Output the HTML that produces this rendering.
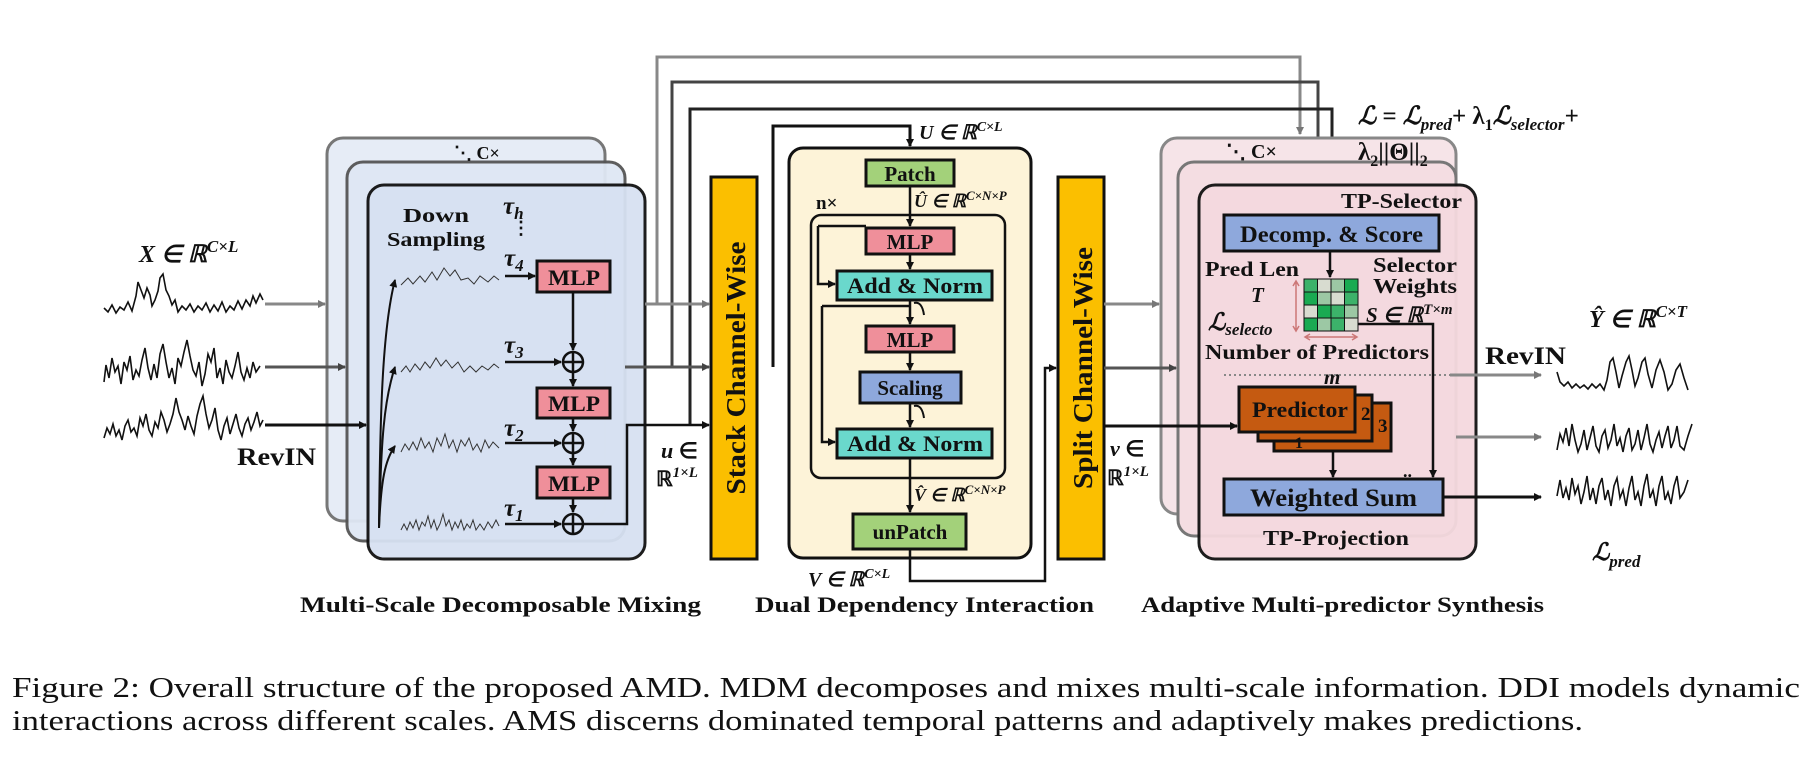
<!DOCTYPE html>
<html><head><meta charset="utf-8"><style>
html,body{margin:0;padding:0;background:#fff}
svg{display:block}
text{font-family:"Liberation Serif",serif;font-weight:bold;fill:#111}
.it{font-style:italic}
.cap{font-weight:normal;font-size:28px}
</style></head><body>
<svg width="1811" height="781" viewBox="0 0 1811 781" xmlns="http://www.w3.org/2000/svg">
<defs>
<marker id="a" markerWidth="8" markerHeight="8" refX="7" refY="4" orient="auto" markerUnits="userSpaceOnUse"><path d="M0,0 L8,4 L0,8 z" fill="#111"/></marker>
<marker id="g" markerWidth="8" markerHeight="8" refX="7" refY="4" orient="auto" markerUnits="userSpaceOnUse"><path d="M0,0 L8,4 L0,8 z" fill="#777"/></marker>
<marker id="d" markerWidth="8" markerHeight="8" refX="7" refY="4" orient="auto" markerUnits="userSpaceOnUse"><path d="M0,0 L8,4 L0,8 z" fill="#444"/></marker>
</defs>

<g fill="none" stroke-width="3">
<path d="M657,304 V57 H1300 V134" stroke="#888" marker-end="url(#g)"/>
<path d="M672,367 V82 H1318 V160" stroke="#444" marker-end="url(#d)"/>
<path d="M690,425 V109 H1332 V213" stroke="#222" marker-end="url(#a)"/>
<path d="M773,367 V126 H910 V146" stroke="#111" marker-end="url(#a)"/>
</g>

<rect x="327" y="138" width="278" height="383" rx="16" fill="#e6ecf6" stroke="#777" stroke-width="3"/>
<rect x="347" y="162" width="278" height="379" rx="16" fill="#dfe7f4" stroke="#555" stroke-width="3" opacity="0.95"/>
<rect x="368" y="185" width="277" height="374" rx="16" fill="#d7e1f2" stroke="#111" stroke-width="3" opacity="0.95"/>
<text x="454" y="159" font-size="18" font-weight="normal">⋱ C×</text>

<rect x="1161" y="138" width="295" height="376" rx="16" fill="#f6e4e8" stroke="#888" stroke-width="3"/>
<rect x="1178" y="162" width="278" height="374" rx="16" fill="#f4dde2" stroke="#777" stroke-width="3"/>
<rect x="1199" y="185" width="277" height="374" rx="16" fill="#f5d9df" stroke="#111" stroke-width="3" opacity="0.95"/>
<text x="1226" y="158" font-size="20" font-weight="normal">⋱ C×</text>

<g fill="none" stroke="#111" stroke-width="1.6">
<polyline points="104,308 108,312 112,305 116,313 120,307 124,310 128,302 132,311 136,296 138,282 141,290 144,298 147,288 150,295 152,306 155,300 158,291 160,278 163,274 166,290 169,296 172,305 175,300 178,312 182,306 186,310 190,304 194,312 198,306 202,310 206,303 210,312 214,305 218,311 222,302 226,312 230,306 234,310 238,301 242,309 246,300 250,306 253,296 256,303 260,294 263,300"/>
<polyline points="104,382 106,365 109,378 112,358 115,372 118,366 121,384 124,362 127,370 130,356 133,380 136,370 139,376 142,360 145,348 148,368 151,380 154,364 157,378 160,354 163,344 166,362 169,378 172,368 175,384 178,358 181,366 184,352 187,340 190,356 193,370 196,376 199,362 202,386 205,374 208,354 211,362 214,348 217,378 220,368 223,384 226,360 229,372 232,378 235,366 238,352 241,372 244,380 247,368 250,378 253,362 256,372 260,366"/>
<polyline points="104,438 107,428 110,434 113,424 116,436 119,430 122,440 125,426 128,420 131,432 134,428 137,436 140,418 143,426 146,414 149,430 152,436 155,422 158,428 161,412 164,420 167,432 170,424 173,414 176,398 179,412 182,420 185,430 188,416 191,426 194,434 197,416 200,404 203,396 206,414 209,428 212,420 215,408 218,430 221,440 224,426 227,418 230,434 233,424 236,414 239,428 242,436 245,424 248,418 251,430 254,422 257,412 260,426 263,420"/>
</g>
<g fill="none" stroke-width="3">
<path d="M265,304 H325" stroke="#888" marker-end="url(#g)"/>
<path d="M265,367 H345" stroke="#555" marker-end="url(#d)"/>
<path d="M265,425 H366" stroke="#111" marker-end="url(#a)"/>
</g>
<text x="139" y="262" font-size="24" class="it">X ∈ ℝ<tspan font-size="17" dy="-10">C×L</tspan></text>
<text x="237" y="465" font-size="25" textLength="79" lengthAdjust="spacingAndGlyphs">RevIN</text>

<text x="403" y="222" font-size="20" textLength="66" lengthAdjust="spacingAndGlyphs">Down</text>
<text x="387" y="246" font-size="20" textLength="98" lengthAdjust="spacingAndGlyphs">Sampling</text>
<text x="503" y="214" font-size="25" class="it">τ<tspan font-size="17" dy="5">h</tspan></text>
<text x="512" y="234" font-size="18">⋮</text>
<g fill="none" stroke="#111" stroke-width="2">
<path d="M379,528 C380,420 382,330 395,280" marker-end="url(#a)"/>
<path d="M379,528 C381,440 384,400 395,367" marker-end="url(#a)"/>
<path d="M379,528 C381,480 385,460 395,446" marker-end="url(#a)"/>
</g>
<g fill="none" stroke="#333" stroke-width="1">
<polyline points="401,285 408,278 413,284 420,276 425,282 432,272 437,280 444,268 450,276 455,270 461,280 468,278 474,284 480,276 488,282 494,276 499,280"/>
<polyline points="401,372 406,366 410,372 415,364 420,370 425,362 430,368 436,358 441,366 446,360 452,368 458,362 464,372 470,366 476,372 482,366 488,370 494,364 499,368"/>
<polyline points="401,452 405,444 409,450 413,442 417,450 421,438 425,448 429,442 433,452 437,438 441,446 445,434 449,448 453,440 457,452 461,440 465,446 469,438 473,450 477,444 481,452 485,440 489,448 493,442 499,448"/>
<polyline points="401,530 404,524 407,530 410,522 413,528 416,520 419,530 422,522 425,526 428,516 431,528 434,520 437,530 440,524 443,514 446,526 449,520 452,530 455,522 458,528 461,520 464,530 467,524 470,528 473,520 476,530 480,524 484,530 488,522 492,528 496,520 499,526"/>
</g>
<g font-size="25" class="it">
<text x="504" y="266">τ<tspan font-size="17" dy="5">4</tspan></text>
<text x="504" y="353">τ<tspan font-size="17" dy="5">3</tspan></text>
<text x="504" y="436">τ<tspan font-size="17" dy="5">2</tspan></text>
<text x="504" y="516">τ<tspan font-size="17" dy="5">1</tspan></text>
</g>
<g fill="#ef8f9a" stroke="#111" stroke-width="3">
<rect x="537" y="261" width="73" height="31"/>
<rect x="537" y="388" width="73" height="30"/>
<rect x="537" y="467" width="73" height="31"/>
</g>
<g font-size="22"><text x="548" y="285" textLength="52" lengthAdjust="spacingAndGlyphs">MLP</text><text x="548" y="411" textLength="52" lengthAdjust="spacingAndGlyphs">MLP</text><text x="548" y="491" textLength="52" lengthAdjust="spacingAndGlyphs">MLP</text></g>
<g fill="none" stroke="#111" stroke-width="2.5">
<circle cx="573" cy="362" r="10"/><path d="M563,362 H583 M573,352 V372"/>
<circle cx="573" cy="443" r="10"/><path d="M563,443 H583 M573,433 V453"/>
<circle cx="573" cy="524" r="10"/><path d="M563,524 H583 M573,514 V534"/>
</g>
<g fill="none" stroke="#111" stroke-width="2.5">
<path d="M505,276 H535" marker-end="url(#a)"/>
<path d="M505,362 H561" marker-end="url(#a)"/>
<path d="M505,443 H561" marker-end="url(#a)"/>
<path d="M505,524 H561" marker-end="url(#a)"/>
<path d="M573,292 V350" marker-end="url(#a)"/>
<path d="M573,372 V386" marker-end="url(#a)"/>
<path d="M573,418 V431" marker-end="url(#a)"/>
<path d="M573,453 V465" marker-end="url(#a)"/>
<path d="M573,498 V512" marker-end="url(#a)"/>
<path d="M583,524 H627 V425 H709" marker-end="url(#a)"/>
</g>
<g fill="none" stroke-width="3">
<path d="M645,304 H709" stroke="#888" marker-end="url(#g)"/>
<path d="M625,367 H709" stroke="#555" marker-end="url(#d)"/>
</g>
<text x="661" y="458" font-size="22" class="it">u <tspan font-style="normal">∈</tspan></text>
<text x="656" y="486" font-size="21" font-weight="normal">ℝ<tspan font-size="15" dy="-9" class="it">1×L</tspan></text>

<rect x="711" y="177" width="46" height="382" fill="#fbbf00" stroke="#111" stroke-width="3"/>
<text transform="translate(745,368) rotate(-90)" font-size="27" text-anchor="middle" textLength="253" lengthAdjust="spacingAndGlyphs">Stack Channel-Wise</text>

<rect x="789" y="148" width="242" height="410" rx="14" fill="#fdf3d8" stroke="#111" stroke-width="3"/>
<text x="919" y="139" font-size="20" class="it">U ∈ ℝ<tspan font-size="14" dy="-8">C×L</tspan></text>
<rect x="866" y="160" width="88" height="26" fill="#a3d17a" stroke="#111" stroke-width="3"/>
<text x="910" y="181" font-size="21" text-anchor="middle">Patch</text>
<text x="816" y="209" font-size="19">n×</text>
<text x="914" y="207" font-size="18" class="it">Û ∈ ℝ<tspan font-size="13" dy="-7">C×N×P</tspan></text>
<rect x="811" y="215" width="194" height="263" rx="10" fill="none" stroke="#111" stroke-width="2.5"/>
<rect x="866" y="228" width="88" height="26" fill="#ef8f9a" stroke="#111" stroke-width="3"/>
<text x="910" y="249" font-size="21" text-anchor="middle">MLP</text>
<rect x="837" y="271" width="155" height="29" fill="#6ad8cc" stroke="#111" stroke-width="3"/>
<text x="847" y="293" font-size="22" textLength="136" lengthAdjust="spacingAndGlyphs">Add &amp; Norm</text>
<rect x="866" y="326" width="88" height="26" fill="#ef8f9a" stroke="#111" stroke-width="3"/>
<text x="910" y="347" font-size="21" text-anchor="middle">MLP</text>
<rect x="860" y="372" width="101" height="31" fill="#8ea8dc" stroke="#111" stroke-width="3"/>
<text x="910" y="395" font-size="21" text-anchor="middle">Scaling</text>
<rect x="837" y="429" width="155" height="29" fill="#6ad8cc" stroke="#111" stroke-width="3"/>
<text x="847" y="451" font-size="22" textLength="136" lengthAdjust="spacingAndGlyphs">Add &amp; Norm</text>
<text x="914" y="501" font-size="18" class="it">V̂ ∈ ℝ<tspan font-size="13" dy="-7">C×N×P</tspan></text>
<rect x="853" y="514" width="113" height="35" fill="#a3d17a" stroke="#111" stroke-width="3"/>
<text x="910" y="539" font-size="21" text-anchor="middle">unPatch</text>
<g fill="none" stroke="#111" stroke-width="2.5">
<path d="M910,186 V226" marker-end="url(#a)"/>
<path d="M910,254 V269" marker-end="url(#a)"/>
<path d="M818,226 V284 H835" marker-end="url(#a)"/>
<path d="M818,226 H866"/>
<path d="M910,300 V324" marker-end="url(#a)"/>
<path d="M910,352 V370" marker-end="url(#a)"/>
<path d="M910,403 V427" marker-end="url(#a)"/>
<path d="M822,306 V442 H835" marker-end="url(#a)"/>
<path d="M822,306 H910"/>
<path d="M910,458 V512" marker-end="url(#a)"/>
<path d="M914,303 q8,-2 10,12 M914,406 q8,-2 10,12" stroke-width="2"/>
<path d="M910,549 V581 H1045 V368 H1056" marker-end="url(#a)"/>
</g>
<text x="808" y="586" font-size="20" class="it">V ∈ ℝ<tspan font-size="14" dy="-8">C×L</tspan></text>

<rect x="1058" y="177" width="46" height="382" fill="#fbbf00" stroke="#111" stroke-width="3"/>
<text transform="translate(1092,368) rotate(-90)" font-size="27" text-anchor="middle" textLength="242" lengthAdjust="spacingAndGlyphs">Split Channel-Wise</text>
<g fill="none" stroke-width="3">
<path d="M1104,304 H1159" stroke="#888" marker-end="url(#g)"/>
<path d="M1104,368 H1176" stroke="#555" marker-end="url(#d)"/>
<path d="M1104,426 H1237" stroke="#111" marker-end="url(#a)"/>
</g>
<text x="1110" y="456" font-size="22" class="it">v <tspan font-style="normal">∈</tspan></text>
<text x="1107" y="485" font-size="21" font-weight="normal">ℝ<tspan font-size="15" dy="-9" class="it">1×L</tspan></text>

<text x="1358" y="124" font-size="25" class="it">ℒ = ℒ<tspan font-size="17" dy="6">pred</tspan><tspan dy="-6" font-style="normal">+ λ</tspan><tspan font-size="16" dy="6" font-style="normal">1</tspan><tspan dy="-6">ℒ</tspan><tspan font-size="17" dy="6">selector</tspan><tspan dy="-6" font-style="normal">+</tspan></text>
<text x="1358" y="160" font-size="25" font-weight="normal">λ<tspan font-size="16" dy="6">2</tspan><tspan dy="-6">||Θ||</tspan><tspan font-size="16" dy="6">2</tspan></text>

<text x="1341" y="208" font-size="21" textLength="121" lengthAdjust="spacingAndGlyphs">TP-Selector</text>
<rect x="1224" y="215" width="215" height="36" fill="#8ea8dc" stroke="#111" stroke-width="3"/>
<text x="1240" y="242" font-size="23" textLength="183" lengthAdjust="spacingAndGlyphs">Decomp. &amp; Score</text>
<text x="1205" y="276" font-size="21" textLength="94" lengthAdjust="spacingAndGlyphs">Pred Len</text>
<text x="1251" y="302" font-size="21" class="it">T</text>
<text x="1208" y="330" font-size="24" class="it">ℒ<tspan font-size="17" dy="5">selecto</tspan></text>
<text x="1205" y="359" font-size="21" textLength="224" lengthAdjust="spacingAndGlyphs">Number of Predictors</text>
<text x="1324" y="384" font-size="21" class="it">m</text>
<text x="1373" y="272" font-size="21" textLength="84" lengthAdjust="spacingAndGlyphs">Selector</text>
<text x="1373" y="293" font-size="21" textLength="84" lengthAdjust="spacingAndGlyphs">Weights</text>
<text x="1366" y="322" font-size="21" class="it">S ∈ ℝ<tspan font-size="15" dy="-8">T×m</tspan></text>
<g stroke="#111" stroke-width="1">
<rect x="1304" y="279" width="13.5" height="13" fill="#3cb26a"/><rect x="1317.5" y="279" width="13.5" height="13" fill="#d8dcd0"/><rect x="1331" y="279" width="13.5" height="13" fill="#9cc8a4"/><rect x="1344.5" y="279" width="13.5" height="13" fill="#1aaa52"/>
<rect x="1304" y="292" width="13.5" height="13" fill="#1aaa52"/><rect x="1317.5" y="292" width="13.5" height="13" fill="#9cc8a4"/><rect x="1331" y="292" width="13.5" height="13" fill="#d8dcd0"/><rect x="1344.5" y="292" width="13.5" height="13" fill="#3cb26a"/>
<rect x="1304" y="305" width="13.5" height="13" fill="#d8dcd0"/><rect x="1317.5" y="305" width="13.5" height="13" fill="#1aaa52"/><rect x="1331" y="305" width="13.5" height="13" fill="#3cb26a"/><rect x="1344.5" y="305" width="13.5" height="13" fill="#9cc8a4"/>
<rect x="1304" y="318" width="13.5" height="13" fill="#1aaa52"/><rect x="1317.5" y="318" width="13.5" height="13" fill="#9cc8a4"/><rect x="1331" y="318" width="13.5" height="13" fill="#3cb26a"/><rect x="1344.5" y="318" width="13.5" height="13" fill="#d8dcd0"/>
</g>
<g stroke="#c77" stroke-width="1.5" fill="none">
<path d="M1296,282 V330 M1293,286 l3,-5 l3,5 M1293,326 l3,5 l3,-5"/>
<path d="M1306,337 H1356 M1310,334 l-5,3 l5,3 M1352,334 l5,3 l-5,3"/>
</g>
<path d="M1224,375 H1450" stroke="#888" stroke-width="2" stroke-dasharray="2,3"/>
<rect x="1274" y="403" width="117" height="48" fill="#c55a11" stroke="#111" stroke-width="3"/>
<rect x="1258" y="395" width="114" height="46" fill="#c55a11" stroke="#111" stroke-width="3"/>
<rect x="1239" y="387" width="116" height="45" fill="#c55a11" stroke="#111" stroke-width="3"/>
<text x="1252" y="417" font-size="22" textLength="96" lengthAdjust="spacingAndGlyphs">Predictor</text>
<text x="1361" y="420" font-size="19">2</text><text x="1378" y="432" font-size="19">3</text><text x="1295" y="448" font-size="16">1</text>
<text x="1403" y="477" font-size="18">..</text>
<rect x="1224" y="479" width="219" height="36" fill="#8ea8dc" stroke="#111" stroke-width="3"/>
<text x="1250" y="506" font-size="25" textLength="167" lengthAdjust="spacingAndGlyphs">Weighted Sum</text>
<text x="1263" y="545" font-size="21" textLength="146" lengthAdjust="spacingAndGlyphs">TP-Projection</text>
<g fill="none" stroke="#111" stroke-width="2.5">
<path d="M1330,251 V277" marker-end="url(#a)"/>
<path d="M1358,324 H1433 V477" marker-end="url(#a)"/>
<path d="M1333,451 V477" marker-end="url(#a)"/>
<path d="M1443,497 H1541" stroke-width="3" marker-end="url(#a)"/>
</g>
<g fill="none" stroke="#888" stroke-width="3">
<path d="M1450,375 H1541" marker-end="url(#g)"/>
<path d="M1456,437 H1541" marker-end="url(#g)"/>
</g>
<text x="1485" y="364" font-size="25" textLength="81" lengthAdjust="spacingAndGlyphs">RevIN</text>
<text x="1589" y="327" font-size="24" class="it">Ŷ ∈ ℝ<tspan font-size="17" dy="-10">C×T</tspan></text>
<text x="1592" y="560" font-size="24" class="it">ℒ<tspan font-size="17" dy="7">pred</tspan></text>
<g fill="none" stroke="#111" stroke-width="1.6">
<polyline points="1557,372 1560,382 1564,386 1568,382 1572,388 1576,384 1580,388 1584,385 1588,389 1592,384 1596,388 1600,384 1604,390 1607,380 1610,362 1613,358 1616,372 1619,388 1622,376 1626,362 1629,356 1632,370 1635,386 1638,378 1642,362 1645,358 1648,374 1652,388 1656,370 1660,360 1664,372 1668,390 1672,384 1676,370 1680,364 1684,378 1688,390"/>
<polyline points="1557,450 1560,434 1563,442 1566,428 1569,446 1572,424 1575,440 1578,452 1581,444 1584,430 1587,450 1590,438 1593,426 1596,446 1599,452 1602,436 1605,430 1608,448 1611,440 1614,424 1617,446 1620,438 1623,452 1626,436 1629,428 1632,450 1635,444 1638,430 1641,450 1644,438 1647,424 1650,444 1653,452 1656,440 1659,432 1662,448 1665,436 1668,426 1671,448 1674,440 1677,426 1680,446 1684,450 1688,436 1692,424"/>
<polyline points="1557,496 1560,480 1563,498 1566,488 1569,500 1572,478 1575,494 1578,486 1581,504 1584,492 1587,476 1590,500 1593,488 1596,504 1599,486 1602,478 1605,500 1608,490 1611,506 1614,486 1617,478 1620,498 1623,490 1626,506 1629,488 1632,476 1635,500 1638,492 1641,506 1644,486 1647,474 1650,498 1653,490 1656,506 1659,486 1662,476 1665,500 1668,492 1671,504 1674,486 1677,476 1680,498 1684,492 1688,480"/>
</g>

<text x="300" y="612" font-size="22" textLength="401" lengthAdjust="spacingAndGlyphs">Multi-Scale Decomposable Mixing</text>
<text x="755" y="612" font-size="22" textLength="339" lengthAdjust="spacingAndGlyphs">Dual Dependency Interaction</text>
<text x="1141" y="612" font-size="22" textLength="403" lengthAdjust="spacingAndGlyphs">Adaptive Multi-predictor Synthesis</text>

<text x="12" y="697" class="cap" textLength="1788" lengthAdjust="spacingAndGlyphs">Figure 2: Overall structure of the proposed AMD. MDM decomposes and mixes multi-scale information. DDI models dynamic</text>
<text x="12" y="730" class="cap" textLength="1571" lengthAdjust="spacingAndGlyphs">interactions across different scales. AMS discerns dominated temporal patterns and adaptively makes predictions.</text>
</svg>
</body></html>
